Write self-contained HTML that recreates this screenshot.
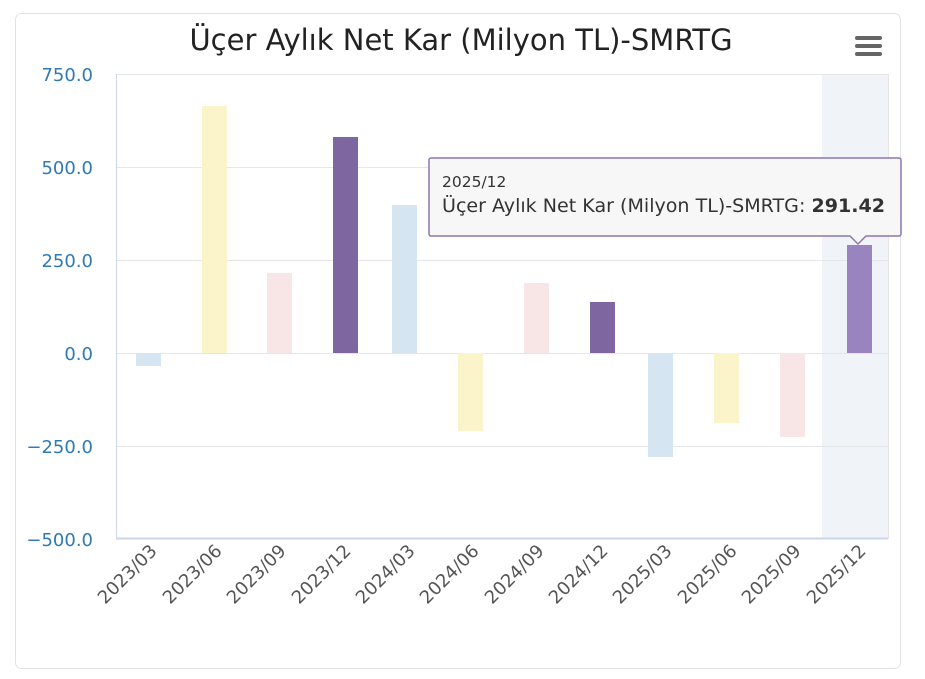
<!DOCTYPE html>
<html><head><meta charset="utf-8"><style>
body{margin:0;background:#fff;}
svg{display:block;font-family:"DejaVu Sans","Liberation Sans",sans-serif;}
</style></head><body>
<svg width="925" height="679" viewBox="0 0 925 679">
<rect x="15.5" y="13.5" width="885" height="655" rx="6" fill="#fff" stroke="#e3e3e3"/>
<text x="461" y="50" text-anchor="middle" font-size="29" fill="#222">Üçer Aylık Net Kar (Milyon TL)-SMRTG</text>
<g fill="#666"><rect x="855" y="36" width="27" height="4" rx="2"/><rect x="855" y="44" width="27" height="4" rx="2"/><rect x="855" y="52" width="27" height="4" rx="2"/></g>
<rect x="822" y="74" width="66" height="465" fill="#f0f3f8"/>
<g stroke="#e6e6e6" stroke-width="1">
<line x1="116" x2="888" y1="74.5" y2="74.5"/><line x1="116" x2="888" y1="167.5" y2="167.5"/><line x1="116" x2="888" y1="260.5" y2="260.5"/><line x1="116" x2="888" y1="353.5" y2="353.5"/><line x1="116" x2="888" y1="446.5" y2="446.5"/>
<line x1="888.5" x2="888.5" y1="74" y2="539"/>
</g>
<line x1="116.5" x2="116.5" y1="74" y2="539" stroke="#ccd6eb"/>
<line x1="116" x2="888" y1="538.5" y2="538.5" stroke="#ccd6eb" stroke-width="2"/>
<g font-size="18" fill="#2f7ab5" text-anchor="end">
<text x="93" y="81">750.0</text><text x="93" y="174">500.0</text><text x="93" y="267">250.0</text><text x="93" y="360">0.0</text><text x="93" y="453">−250.0</text><text x="93" y="546">−500.0</text>
</g>
<g>
<rect x="136" y="353" width="25" height="13" fill="#d5e6f2"/>
<rect x="202" y="106" width="25" height="247" fill="#fbf3ca"/>
<rect x="267" y="273" width="25" height="80" fill="#f8e6e6"/>
<rect x="333" y="137" width="25" height="216" fill="#7e67a0"/>
<rect x="392" y="205" width="25" height="148" fill="#d5e6f2"/>
<rect x="458" y="353" width="25" height="78" fill="#fbf3ca"/>
<rect x="524" y="283" width="25" height="70" fill="#f8e6e6"/>
<rect x="590" y="302" width="25" height="51" fill="#7e67a0"/>
<rect x="648" y="353" width="25" height="104" fill="#d5e6f2"/>
<rect x="714" y="353" width="25" height="70" fill="#fbf3ca"/>
<rect x="780" y="353" width="25" height="84" fill="#f8e6e6"/>
<rect x="847" y="245" width="25" height="108" fill="#9a84bf"/>
</g>
<g font-size="18" fill="#555" text-anchor="end">
<text transform="translate(158,552) rotate(-45)">2023/03</text>
<text transform="translate(223,552) rotate(-45)">2023/06</text>
<text transform="translate(287,552) rotate(-45)">2023/09</text>
<text transform="translate(352,552) rotate(-45)">2023/12</text>
<text transform="translate(416,552) rotate(-45)">2024/03</text>
<text transform="translate(480,552) rotate(-45)">2024/06</text>
<text transform="translate(545,552) rotate(-45)">2024/09</text>
<text transform="translate(609,552) rotate(-45)">2024/12</text>
<text transform="translate(673,552) rotate(-45)">2025/03</text>
<text transform="translate(738,552) rotate(-45)">2025/06</text>
<text transform="translate(802,552) rotate(-45)">2025/09</text>
<text transform="translate(867,552) rotate(-45)">2025/12</text>
</g>
<path d="M431 158 H899 a2 2 0 0 1 2 2 V234 a2 2 0 0 1 -2 2 H866 L858 244 L850 236 H431 a2 2 0 0 1 -2 -2 V160 a2 2 0 0 1 2 -2 Z" fill="#f7f7f7" fill-opacity="0.95" stroke="#8e77b0" stroke-width="1.5"/>
<text x="442" y="187" font-size="15.5" fill="#333">2025/12</text>
<text x="442" y="212" font-size="19" fill="#333" textLength="443" lengthAdjust="spacingAndGlyphs">Üçer Aylık Net Kar (Milyon TL)-SMRTG: <tspan font-weight="bold">291.42</tspan></text>
</svg>
</body></html>
